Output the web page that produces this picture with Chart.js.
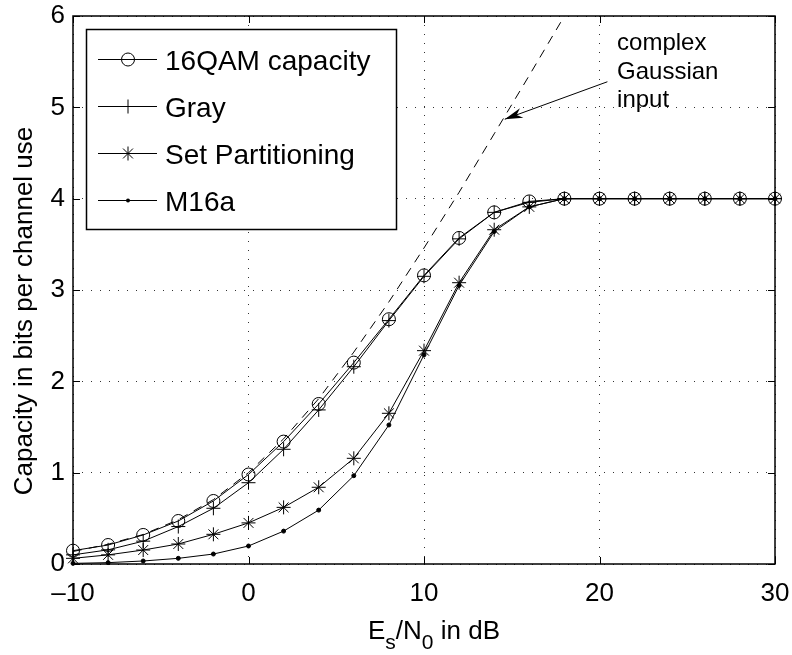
<!DOCTYPE html>
<html>
<head>
<meta charset="utf-8">
<script src="https://cdn.jsdelivr.net/npm/chart.js@4.4.1/dist/chart.umd.min.js"></script>
<style>
  html, body { margin: 0; padding: 0; background: #fff; }
  #wrap { width: 792px; height: 655px; position: relative; }
</style>
</head>
<body>
<div id="wrap"><canvas id="cap"></canvas></div>
<script>
// Es/N0 grid in dB
const snr = [-10, -8, -6, -4, -2, 0, 2, 4, 6, 8, 10, 12, 14, 16, 18, 20, 22, 24, 26, 28, 30];

// mutual information in bits per channel use
const qamCap  = [0.146, 0.208, 0.318, 0.471, 0.69, 0.98, 1.34, 1.752, 2.205, 2.68, 3.16, 3.57, 3.85, 3.97, 4, 4, 4, 4, 4, 4, 4];
const grayMap = [0.10, 0.155, 0.25, 0.41, 0.61, 0.89, 1.256, 1.687, 2.16, 2.665, 3.15, 3.56, 3.85, 3.96, 4, 4, 4, 4, 4, 4, 4];
const setPart = [0.062, 0.10, 0.153, 0.219, 0.325, 0.45, 0.62, 0.84, 1.157, 1.65, 2.336, 3.08, 3.66, 3.91, 4, 4, 4, 4, 4, 4, 4];
const m16a    = [0.007, 0.015, 0.033, 0.062, 0.109, 0.197, 0.36, 0.59, 0.967, 1.522, 2.29, 3.05, 3.64, 3.91, 4, 4, 4, 4, 4, 4, 4];

// Gaussian input bound (dashed), runs off the top of the axes
const gaussSnr = [-10, -8, -6, -4, -2, 0, 2, 4, 6, 8, 10, 12, 14, 16, 18];
const gaussCap = [0.137, 0.216, 0.323, 0.485, 0.705, 1.0, 1.37, 1.81, 2.32, 2.87, 3.46, 4.07, 4.71, 5.35, 6.0];

const xTicks = [-10, 0, 10, 20, 30];
const yTicks = [0, 1, 2, 3, 4, 5, 6];

const seriesNames = ["16QAM capacity", "Gray", "Set Partitioning", "M16a"];
const noteLines = ["complex", "Gaussian", "input"];

const FONT = "'Liberation Sans', Arial, Helvetica, sans-serif";

function pts(xs, ys) {
  return xs.map((x, i) => ({ x: x, y: ys[i] }));
}

function marker(ctx, style, x, y) {
  ctx.beginPath();
  if (style === "circle") {
    ctx.arc(x, y, 6.5, 0, Math.PI * 2);
    ctx.stroke();
  } else if (style === "cross") {
    ctx.moveTo(x - 7, y); ctx.lineTo(x + 7, y);
    ctx.moveTo(x, y - 7); ctx.lineTo(x, y + 7);
    ctx.stroke();
  } else if (style === "star") {
    const r = 7, d = r * Math.SQRT1_2;
    ctx.moveTo(x - r, y); ctx.lineTo(x + r, y);
    ctx.moveTo(x, y - r); ctx.lineTo(x, y + r);
    ctx.moveTo(x - d, y - d); ctx.lineTo(x + d, y + d);
    ctx.moveTo(x - d, y + d); ctx.lineTo(x + d, y - d);
    ctx.stroke();
  } else {
    ctx.arc(x, y, 2, 0, Math.PI * 2);
    ctx.fill();
  }
}

const line = (label, data, style, radius, fill) => ({
  label: label,
  data: data,
  borderColor: "#000",
  borderWidth: 1,
  tension: 0,
  pointStyle: style,
  pointRadius: radius,
  pointBorderWidth: 1,
  pointBorderColor: "#000",
  pointBackgroundColor: fill ? "#000" : "rgba(0,0,0,0)",
  clip: false
});

// axes box, inward ticks, legend, axis titles and the annotation
const decor = {
  id: "decor",
  afterDraw(chart) {
    const ctx = chart.ctx;
    const a = chart.chartArea;
    const xs = chart.scales.x, ys = chart.scales.y;
    ctx.save();
    ctx.strokeStyle = "#000";
    ctx.fillStyle = "#000";

    // box
    ctx.lineWidth = 1.5;
    ctx.strokeRect(a.left, a.top, a.right - a.left, a.bottom - a.top);

    // inward ticks
    ctx.lineWidth = 1;
    ctx.beginPath();
    xTicks.forEach(v => {
      const px = Math.round(xs.getPixelForValue(v)) + 0.5;
      ctx.moveTo(px, a.bottom); ctx.lineTo(px, a.bottom - 7);
      ctx.moveTo(px, a.top); ctx.lineTo(px, a.top + 7);
    });
    yTicks.forEach(v => {
      const py = Math.round(ys.getPixelForValue(v)) + 0.5;
      ctx.moveTo(a.left, py); ctx.lineTo(a.left + 7, py);
      ctx.moveTo(a.right, py); ctx.lineTo(a.right - 7, py);
    });
    ctx.stroke();

    // legend
    const lx = 86.5, ly = 29.5, lw = 310, lh = 200;
    ctx.fillStyle = "#fff";
    ctx.fillRect(lx, ly, lw, lh);
    ctx.fillStyle = "#000";
    ctx.lineWidth = 1.5;
    ctx.strokeRect(lx, ly, lw, lh);
    ctx.lineWidth = 1;
    ctx.font = "28px " + FONT;
    ctx.textBaseline = "alphabetic";
    ctx.textAlign = "left";
    const styles = ["circle", "cross", "star", "dot"];
    seriesNames.forEach((name, i) => {
      const ry = 59.5 + i * 47;
      ctx.beginPath();
      ctx.moveTo(98, ry); ctx.lineTo(157, ry);
      ctx.stroke();
      marker(ctx, styles[i], 128, ry);
      ctx.fillText(name, 165, ry + 10);
    });

    // y title
    ctx.save();
    ctx.translate(32, 311);
    ctx.rotate(-Math.PI / 2);
    ctx.font = "26px " + FONT;
    ctx.textAlign = "center";
    ctx.fillText("Capacity in bits per channel use", 0, 0);
    ctx.restore();

    // x title with subscripts
    const big = "26px " + FONT, small = "21px " + FONT;
    let tx = 368;
    const by = 639;
    const parts = [["E", big, 0], ["s", small, 10], ["/N", big, 0], ["0", small, 10], [" in dB", big, 0]];
    parts.forEach(p => {
      ctx.font = p[1];
      ctx.fillText(p[0], tx, by + p[2]);
      tx += ctx.measureText(p[0]).width;
    });

    // annotation for the Gaussian curve
    ctx.font = "24px " + FONT;
    const nx = xs.getPixelForValue(21);
    [5.63, 5.31, 5.0].forEach((v, i) => {
      ctx.fillText(noteLines[i], nx, ys.getPixelForValue(v));
    });
    const x0 = xs.getPixelForValue(20.45), y0 = ys.getPixelForValue(5.28);
    const x1 = xs.getPixelForValue(14.6), y1 = ys.getPixelForValue(4.87);
    ctx.beginPath();
    ctx.moveTo(x0, y0); ctx.lineTo(x1, y1);
    ctx.stroke();
    const ang = Math.atan2(y1 - y0, x1 - x0);
    const hl = 18, hw = 5;
    const bx = x1 - Math.cos(ang) * hl, byy = y1 - Math.sin(ang) * hl;
    const nxp = -Math.sin(ang), nyp = Math.cos(ang);
    ctx.beginPath();
    ctx.moveTo(x1, y1);
    ctx.lineTo(bx + nxp * hw, byy + nyp * hw);
    ctx.lineTo(x1 - Math.cos(ang) * hl * 0.7, y1 - Math.sin(ang) * hl * 0.7);
    ctx.lineTo(bx - nxp * hw, byy - nyp * hw);
    ctx.closePath();
    ctx.fill();

    ctx.restore();
  }
};

new Chart(document.getElementById("cap"), {
  type: "line",
  data: {
    datasets: [
      {
        label: "Gaussian",
        data: pts(gaussSnr, gaussCap),
        borderColor: "#000",
        borderWidth: 1,
        borderDash: [9, 7],
        pointRadius: 0,
        tension: 0
      },
      line(seriesNames[0], pts(snr, qamCap), "circle", 6.5, false),
      line(seriesNames[1], pts(snr, grayMap), "cross", 7, false),
      line(seriesNames[2], pts(snr, setPart), "star", 7, false),
      line(seriesNames[3], pts(snr, m16a), "circle", 2, true)
    ]
  },
  options: {
    responsive: true,
    maintainAspectRatio: false,
    animation: false,
    layout: { padding: { left: 0, top: 16, right: 17, bottom: 0 } },
    plugins: {
      legend: { display: false },
      tooltip: { enabled: false }
    },
    scales: {
      x: {
        type: "linear",
        min: -10,
        max: 30,
        afterFit(s) { s.height = 91; s.paddingLeft = 0; s.paddingRight = 0; },
        afterBuildTicks(s) { s.ticks = xTicks.map(v => ({ value: v })); },
        ticks: {
          color: "#000",
          font: { size: 26, family: FONT },
          padding: 14,
          maxRotation: 0,
          callback: v => (v < 0 ? "\u2013" + Math.abs(v) : String(v))
        },
        grid: { color: "#333", lineWidth: 1, drawTicks: false },
        border: { display: false, dash: [1, 8] }
      },
      y: {
        min: 0,
        max: 6,
        afterFit(s) { s.width = 73; s.paddingTop = 0; s.paddingBottom = 0; },
        afterBuildTicks(s) { s.ticks = yTicks.map(v => ({ value: v })); },
        ticks: {
          color: "#000",
          font: { size: 26, family: FONT },
          padding: 8
        },
        grid: { color: "#333", lineWidth: 1, drawTicks: false },
        border: { display: false, dash: [1, 8] }
      }
    }
  },
  plugins: [decor]
});
</script>
</body>
</html>
